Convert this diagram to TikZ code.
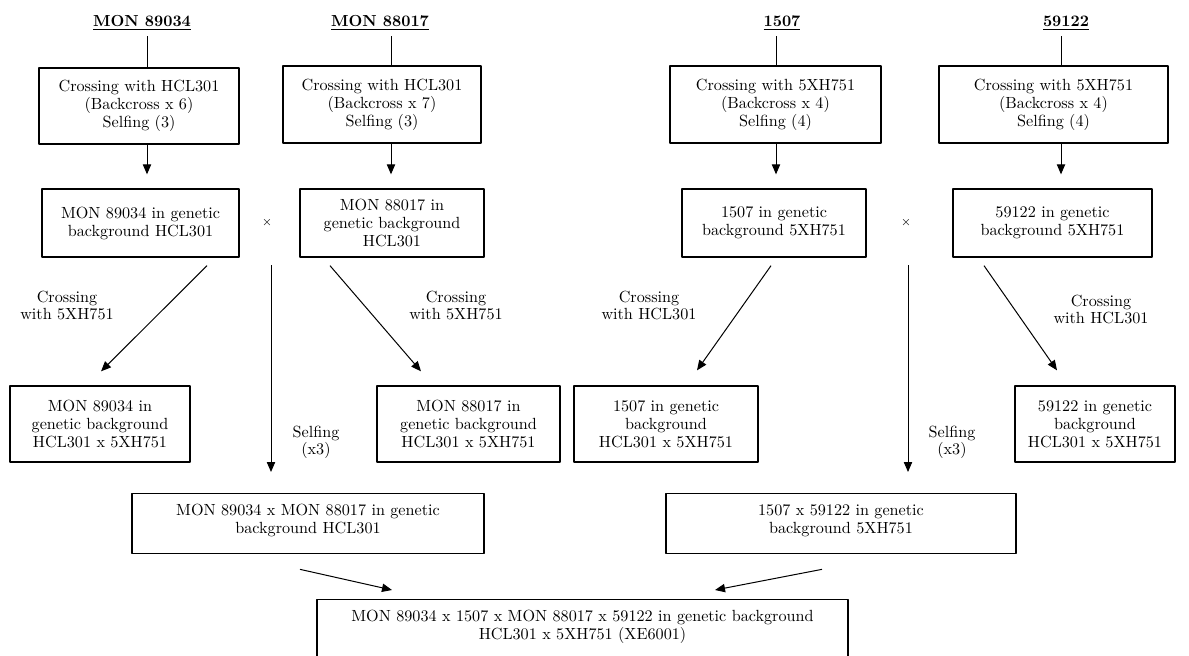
\documentclass[tikz,border=0pt]{standalone}
\usetikzlibrary{arrows.meta}
\tikzset{
  stepbox/.style={draw,line width=0.8pt,align=center,inner sep=0pt,font=\fontsize{9.7}{10.8}\selectfont},
  joinbox/.style={stepbox,anchor=north,inner ysep=6pt,text height=7pt},
  title/.style={inner sep=0pt,font=\fontsize{9.6}{10}\selectfont\bfseries},
  note/.style={align=center,inner sep=0pt,font=\fontsize{9.7}{10.2}\selectfont},
  cross/.style={inner sep=0pt,font=\fontsize{7}{7}\selectfont},
  link/.style={->,line width=0.6pt},
}
\begin{document}
\begin{tikzpicture}[x=0.6pt,y=-0.6pt,line join=round,>={Triangle[length=6pt,width=5pt]}]
	\useasboundingbox (0,0) rectangle (1189,655);
	\clip (0,0) rectangle (1189,655);
	% event titles
	\node[title] (t1) at (142,23) {\underline{MON 89034}};
	\node[title] (t2) at (380,23) {\underline{MON 88017}};
	\node[title] (t3) at (782,23) {\underline{1507}};
	\node[title] (t4) at (1066,23) {\underline{59122}};
	\coordinate (k1) at (147,36);
	\coordinate (k2) at (391,36);
	\coordinate (k3) at (776,36);
	\coordinate (k4) at (1061,36);
	% backcrossing
	\node[stepbox,minimum width=120pt,minimum height=45.6pt] (b1) at (139,106) {Crossing with HCL301\\(Backcross x 6)\\Selfing (3)};
	\node[stepbox,minimum width=118.8pt,minimum height=46.2pt] (b2) at (382,104.5) {Crossing with HCL301\\(Backcross x 7)\\Selfing (3)};
	\node[stepbox,minimum width=126.6pt,minimum height=46.2pt] (b3) at (775.5,104.5) {Crossing with 5XH751\\(Backcross x 4)\\Selfing (4)};
	\node[stepbox,minimum width=137.4pt,minimum height=46.2pt] (b4) at (1053.5,104.5) {Crossing with 5XH751\\(Backcross x 4)\\Selfing (4)};
	% events in background
	\node[stepbox,minimum width=118.2pt,minimum height=40.8pt] (r1) at (140.5,223) {MON 89034 in genetic\\background HCL301};
	\node[stepbox,minimum width=110.4pt,minimum height=40.8pt] (r2) at (392,223) {MON 88017 in\\genetic background\\HCL301};
	\node[stepbox,minimum width=110.4pt,minimum height=40.8pt] (r3) at (774,223) {1507 in genetic\\background 5XH751};
	\node[stepbox,minimum width=119.4pt,minimum height=40.8pt] (r4) at (1052.5,223) {59122 in genetic\\background 5XH751};
	\node[cross] (m1) at (267,223) {$\times$};
	\node[cross] (m2) at (906,223) {$\times$};
	% crossed to other line
	\node[stepbox,minimum width=108pt,minimum height=45.6pt] (c1) at (100,424) {MON 89034 in\\genetic background\\HCL301 x 5XH751};
	\node[stepbox,minimum width=109.8pt,minimum height=45.6pt] (c2) at (468.5,424) {MON 88017 in\\genetic background\\HCL301 x 5XH751};
	\node[stepbox,minimum width=110.4pt,minimum height=45.6pt] (c3) at (666,424) {1507 in genetic\\background\\HCL301 x 5XH751};
	\node[stepbox,minimum width=96pt,minimum height=45.6pt] (c4) at (1095,424) {59122 in genetic\\background\\HCL301 x 5XH751};
	% stacks
	\node[joinbox,text width=211.2pt,text depth=17pt] (s1) at (308,493) {MON 89034 x MON 88017 in genetic\\background HCL301};
	\node[joinbox,text width=210pt,text depth=17pt] (s2) at (841,493) {1507 x 59122 in genetic\\background 5XH751};
	\node[joinbox,text width=318.6pt,text depth=70pt] (f) at (582.5,599) {MON 89034 x 1507 x MON 88017 x 59122 in genetic background\\HCL301 x 5XH751 (XE6001)};
	% labels
	\node[note] (l1) at (67,305) {Crossing\\with 5XH751};
	\node[note] (l2) at (456,305) {Crossing\\with 5XH751};
	\node[note] (l3) at (649,305) {Crossing\\with HCL301};
	\node[note] (l4) at (1101,309) {Crossing\\with HCL301};
	\node[note] (sf1) at (316,442) {Selfing\\(x3)};
	\node[note] (sf2) at (952,442) {Selfing\\(x3)};
	% connectors
	\foreach \i in {1,...,4}{
		\draw[line width=0.6pt] (k\i) -- (k\i |- b\i.north);
		\draw[link,shorten >=8.4pt] (k\i |- b\i.south) -- (k\i |- r\i.north);
	}
	\draw[link] ([shift={(66.5,8)}]r1.south) -- ([shift={(1,-14)}]c1.north);
	\draw[link] ([shift={(-62,8)}]r2.south) -- ([shift={(-47.5,-14)}]c2.north);
	\draw[link] ([shift={(-3,8)}]r3.south) -- ([shift={(31,-15)}]c3.north);
	\draw[link] ([shift={(-68.5,8)}]r4.south) -- ([shift={(-38,-15)}]c4.north);
	\draw[link] ([shift={(4,42)}]m1.center) -- ([shift={(-37,-21)}]s1.north);
	\draw[link] ([shift={(2,42)}]m2.center) -- ([shift={(67,-21)}]s2.north);
	\draw[link] ([shift={(-8,15)}]s1.south) -- ([shift={(-190.5,-9)}]f.north);
	\draw[link] ([shift={(-19,15)}]s2.south) -- ([shift={(132.5,-9)}]f.north);
\end{tikzpicture}
\end{document}
